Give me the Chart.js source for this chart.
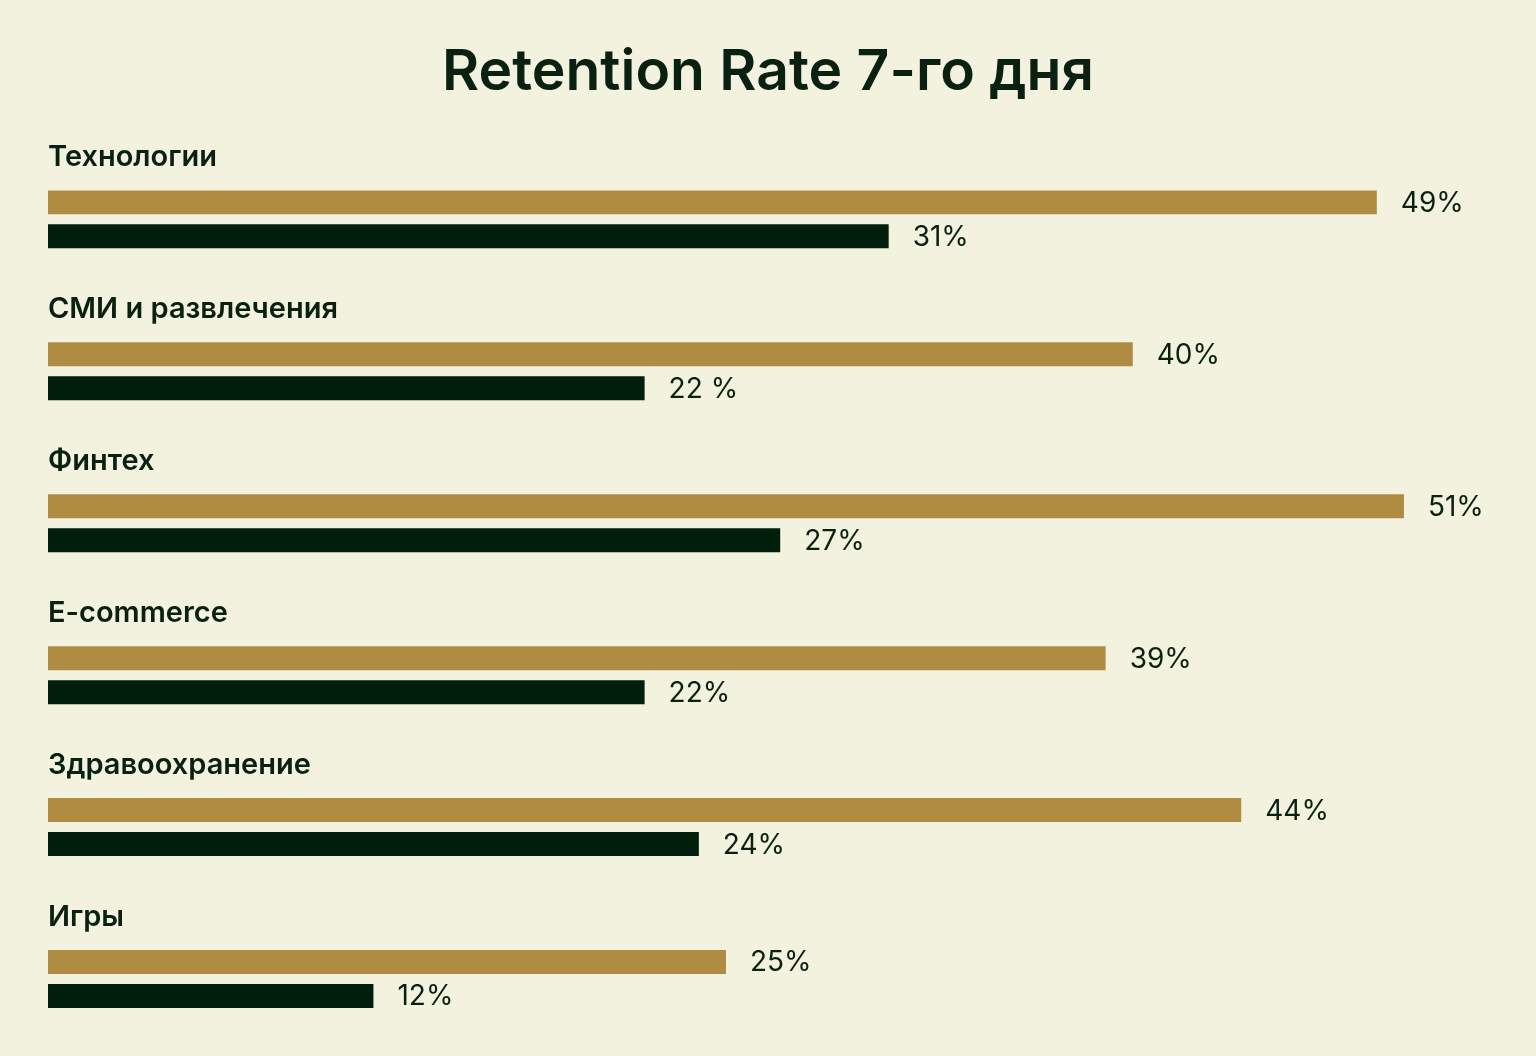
<!DOCTYPE html>
<html lang="ru">
<head>
<meta charset="utf-8">
<title>Retention Rate 7-го дня</title>
<script src="https://cdn.jsdelivr.net/npm/chart.js@4"></script>
<style>
  html, body { margin: 0; padding: 0; background: #f3f2df; }
  #wrap { width: 1536px; height: 1056px; }
</style>
</head>
<body>
<div id="wrap"><canvas id="myChart"></canvas></div>
<script>
// Категории и значения
const categories = ["Технологии", "СМИ и развлечения", "Финтех", "E-commerce", "Здравоохранение", "Игры"];
const goldValues = [49, 40, 50, 39, 44, 25];
const darkValues = [31, 22, 27, 22, 24, 12];
// Подписи к столбцам (как на картинке)
const goldLabels = ["49%", "40%", "51%", "39%", "44%", "25%"];
const darkLabels = ["31%", "22 %", "27%", "22%", "24%", "12%"];

const textColor = "#0a2112";
const fontFamily = "Inter, 'Noto Sans', sans-serif";

// Плагин: подписи категорий над группами и значения справа от столбцов
const labelsPlugin = {
  id: "labels",
  afterDatasetsDraw(chart) {
    const ctx = chart.ctx;
    const yScale = chart.scales.y;
    ctx.save();
    ctx.fillStyle = textColor;
    ctx.textBaseline = "middle";

    // Названия категорий
    ctx.font = "600 29px " + fontFamily;
    ctx.textAlign = "left";
    const step = yScale.getPixelForValue(1) - yScale.getPixelForValue(0);
    categories.forEach((name, i) => {
      const top = yScale.getPixelForValue(i) - step / 2;
      ctx.fillText(name, chart.chartArea.left, top + 14);
    });

    // Значения
    ctx.font = "400 28px " + fontFamily;
    const allLabels = [goldLabels, darkLabels];
    chart.data.datasets.forEach((ds, d) => {
      chart.getDatasetMeta(d).data.forEach((bar, i) => {
        ctx.fillText(allLabels[d][i], bar.x + 24, bar.y + 1);
      });
    });
    ctx.restore();
  }
};

const ctx = document.getElementById("myChart").getContext("2d");

const chart = new Chart(ctx, {
  type: "bar",
  data: {
    labels: categories,
    datasets: [
      {
        label: "Ряд 1",
        data: goldValues,
        backgroundColor: "#af8c42",
        categoryPercentage: 68 / 152,
        barPercentage: 24 / 34
      },
      {
        label: "Ряд 2",
        data: darkValues,
        backgroundColor: "#001e0c",
        categoryPercentage: 68 / 152,
        barPercentage: 24 / 34
      }
    ]
  },
  options: {
    indexAxis: "y",
    responsive: true,
    maintainAspectRatio: false,
    animation: false,
    layout: {
      padding: { left: 48, right: 48, bottom: 1, top: 0 }
    },
    scales: {
      x: { display: false, min: 0, max: 53.1 },
      y: { display: false, offset: true }
    },
    plugins: {
      legend: { display: false },
      tooltip: { enabled: false },
      title: {
        display: true,
        text: "Retention Rate 7-го дня",
        color: textColor,
        font: { family: fontFamily, size: 57, weight: "600", lineHeight: 1.2 },
        padding: { top: 39, bottom: 36 }
      }
    }
  },
  plugins: [labelsPlugin]
});
</script>
</body>
</html>
